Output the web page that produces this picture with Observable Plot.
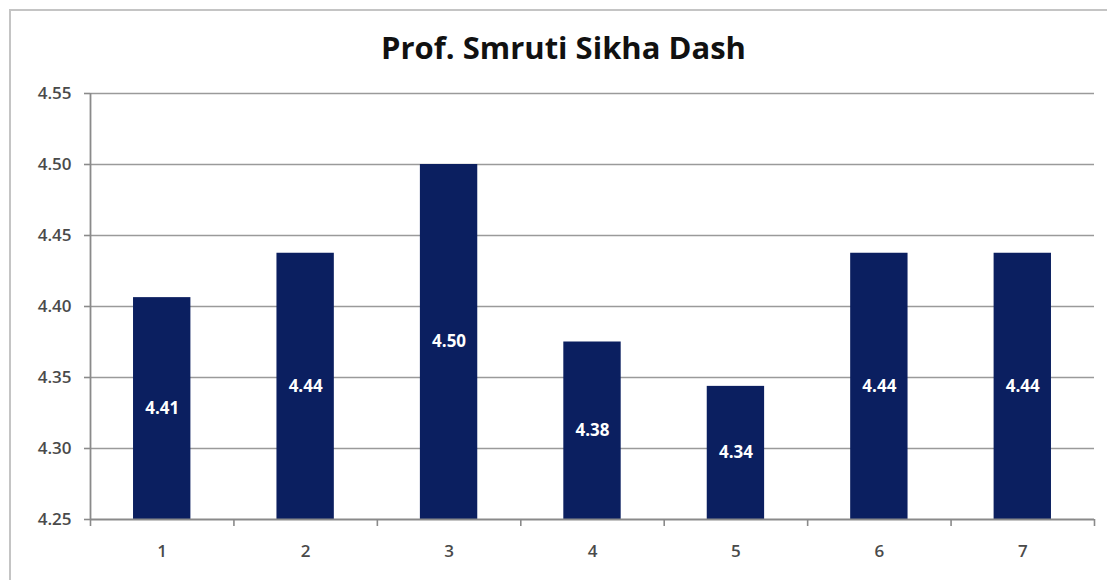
<!DOCTYPE html>
<html>
<head>
<meta charset="utf-8">
<script src="https://cdn.jsdelivr.net/npm/d3@7"></script>
<script src="https://cdn.jsdelivr.net/npm/@observablehq/plot@0.6"></script>
<style>
  html, body { margin: 0; padding: 0; background: #fff; }
  #wrap { position: relative; width: 1107px; height: 580px; overflow: hidden; background: #fff; }
  #frame { position: absolute; left: 9px; top: 9px; width: 1120px; height: 590px; border: 2px solid #c4c4c4; box-sizing: border-box; }
  #title { position: relative; height: 70px; line-height: 94px; text-align: center; font-family: "Open Sans", sans-serif; font-weight: 700; font-size: 31px; color: #111; padding-left: 20px; box-sizing: border-box; white-space: nowrap; }
  #chart { position: relative; }
</style>
</head>
<body>
<div id="wrap">
  <div id="frame"></div>
  <div id="title">Prof. Smruti Sikha Dash</div>
  <div id="chart"></div>
</div>
<script>
const categories = [1, 2, 3, 4, 5, 6, 7];
const values = [4.40625, 4.4375, 4.5, 4.375, 4.34375, 4.4375, 4.4375];
const valueLabels = ["4.41", "4.44", "4.50", "4.38", "4.34", "4.44", "4.44"];
const yTicks = [4.25, 4.30, 4.35, 4.40, 4.45, 4.50, 4.55];
const xBoundaries = [0.5, 1.5, 2.5, 3.5, 4.5, 5.5, 6.5, 7.5];
const yBase = 4.25;

const data = categories.map((c, i) => ({cat: c, value: values[i], label: valueLabels[i]}));
const half = 0.2;

const plot = Plot.plot({
  width: 1107,
  height: 510,
  marginTop: 23,
  marginBottom: 61,
  marginLeft: 90,
  marginRight: 13,
  style: {fontFamily: "Open Sans, sans-serif", background: "transparent"},
  x: {domain: [0.5, 7.5]},
  y: {domain: [4.25, 4.55]},
  marks: [
    Plot.ruleY(yTicks.filter(t => t > yBase), {stroke: "#9a9a9a", strokeWidth: 1.6}),
    Plot.rect(data, {
      x1: d => d.cat - half, x2: d => d.cat + half,
      y1: yBase, y2: "value",
      fill: "#0b1f60"
    }),
    Plot.text(data, {
      x: "cat", y: d => (yBase + d.value) / 2,
      text: "label", fill: "#ffffff", fontSize: 17, fontWeight: 700
    }),
    Plot.ruleY([yBase], {stroke: "#8a8a8a", strokeWidth: 1.8}),
    Plot.ruleX([0.5], {stroke: "#8a8a8a", strokeWidth: 1.8}),
    Plot.axisY({
      ticks: yTicks, tickFormat: d3.format(".2f"), tickSize: 6, tickPadding: 13,
      stroke: "#8a8a8a", strokeWidth: 1.6, fill: "#4a4a4a", fontSize: 17, fontWeight: 600, label: null
    }),
    Plot.axisX({
      ticks: xBoundaries, tickFormat: () => "", tickSize: 7,
      stroke: "#8a8a8a", strokeWidth: 1.6, label: null
    }),
    Plot.axisX({
      ticks: categories, tickFormat: d => String(d), tickSize: 0, tickPadding: 25,
      fill: "#4a4a4a", fontSize: 17, fontWeight: 600, label: null
    })
  ]
});
document.getElementById("chart").appendChild(plot);
</script>
</body>
</html>
